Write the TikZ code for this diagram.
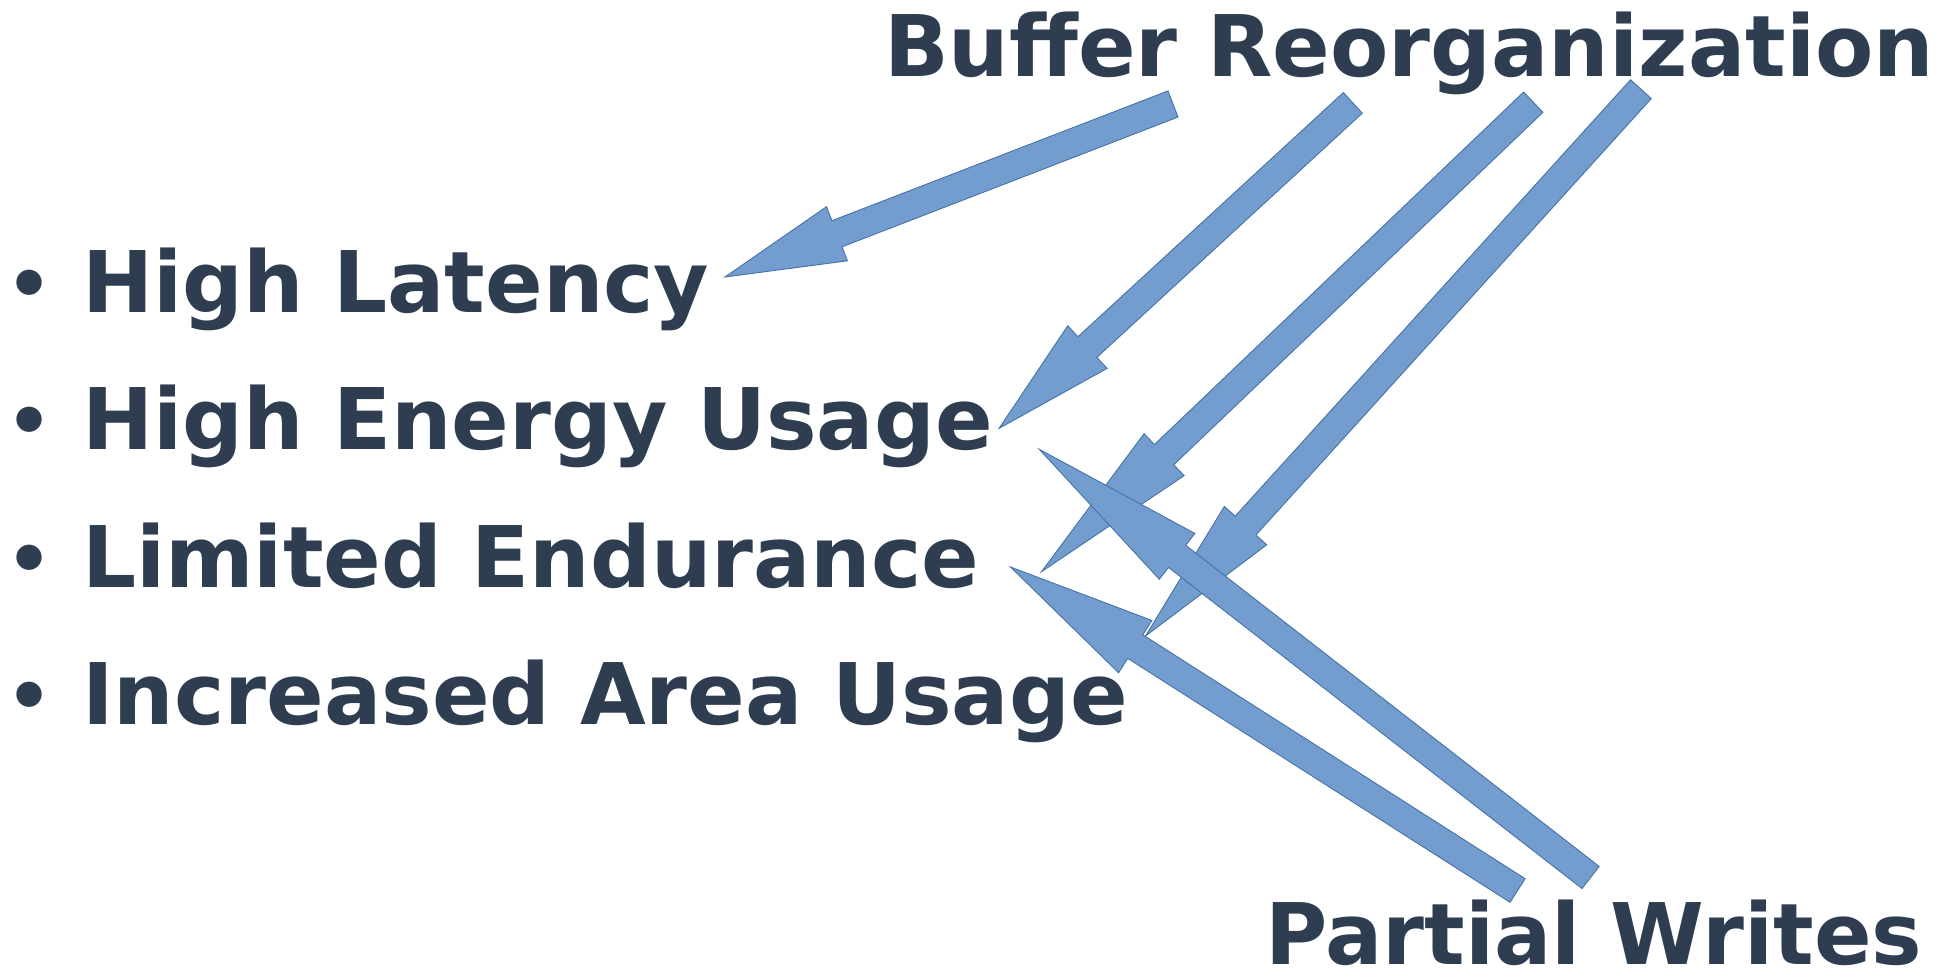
\documentclass[tikz,border=0pt]{standalone}
\usepackage{fontspec}
\setmainfont{DejaVu Sans}
\usetikzlibrary{calc}
\definecolor{txt}{RGB}{46,62,80}
\definecolor{afill}{RGB}{114,157,206}
\definecolor{aline}{RGB}{69,114,167}
\tikzset{
  lbl/.style={anchor=base west, inner sep=0pt, outer sep=0pt, text=txt, font=\fontsize{85}{100}\selectfont\bfseries},
  bul/.style={anchor=base, inner sep=0pt, outer sep=0pt, text=txt, font=\fontsize{72}{90}\selectfont\bfseries},
  barrow/.style={fill=afill, draw=aline, line width=0.9pt, line join=miter},
}
\newcommand{\shafthw}{14pt}
% #1 name, #2 tail, #3 tip, #4 head length, #5 head half-width
\newcommand{\blockarrow}[5]{%
  \coordinate (#1-h) at ($(#3)!#4!(#2)$);
  \draw[barrow] ($(#2)!\shafthw!90:(#3)$) -- ($(#1-h)!\shafthw!90:(#3)$) -- ($(#1-h)!#5!90:(#3)$) -- (#3)
    -- ($(#1-h)!#5!-90:(#3)$) -- ($(#1-h)!\shafthw!-90:(#3)$) -- ($(#2)!\shafthw!-90:(#3)$) -- cycle;
}
\begin{document}
\begin{tikzpicture}[x=1pt,y=-1pt]
\useasboundingbox (0,0) rectangle (1959,969);
% texts
\node[lbl] (buf) at (884,76) {Buffer Reorganization};
\node[lbl] (pw) at (1265,964) {Partial Writes};
\node[bul] (b1) at (29.2,309.5) {•};
\node[bul] (b2) at (29.2,446.5) {•};
\node[bul] (b3) at (29.2,584) {•};
\node[bul] (b4) at (29.2,721) {•};
\node[lbl] (lat) at (82,312.5) {High Latency};
\node[lbl] (energy) at (82,449.5) {High Energy Usage};
\node[lbl] (endur) at (82,587) {Limited Endurance};
\node[lbl] (area) at (82,724) {Increased Area Usage};
% arrow end points
\coordinate (a1t) at (1173,104);   \coordinate (a1p) at (725,277);
\coordinate (a2t) at (1352.8,102.9); \coordinate (a2p) at (999.1,428.3);
\coordinate (a3t) at (1533.3,102.2); \coordinate (a3p) at (1041.5,571.7);
\coordinate (a4t) at (1640.9,89.2);  \coordinate (a4p) at (1145.5,636);
\coordinate (a5t) at (1590.6,877.5); \coordinate (a5p) at (1039.3,449.3);
\coordinate (a6t) at (1517.6,890.5); \coordinate (a6p) at (1010.5,567);
% arrows
\blockarrow{a1}{a1t}{a1p}{120pt}{29pt}
\blockarrow{a2}{a2t}{a2p}{120pt}{29pt}
\blockarrow{a3}{a3t}{a3p}{169.5pt}{29pt}
\blockarrow{a4}{a4t}{a4p}{149pt}{28.6pt}
\blockarrow{a6}{a6t}{a6p}{148pt}{31pt}
\blockarrow{a5}{a5t}{a5p}{174.5pt}{29pt}
\end{tikzpicture}
\end{document}
